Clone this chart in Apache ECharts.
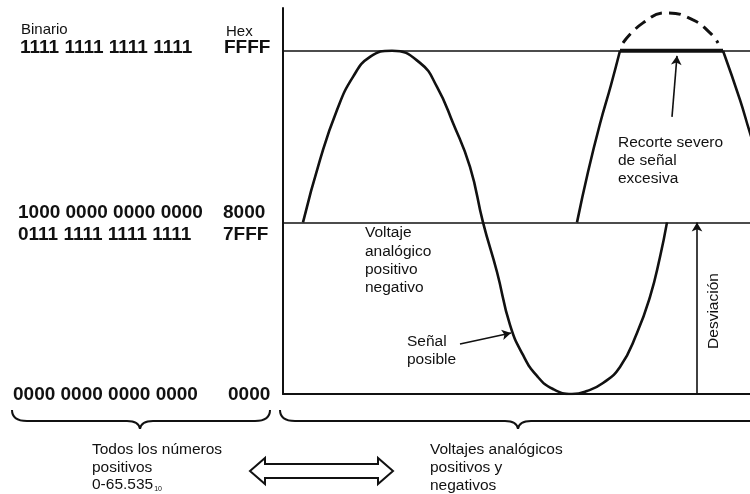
<!DOCTYPE html>
<html>
<head>
<meta charset="utf-8">
<script src="https://cdn.jsdelivr.net/npm/echarts@6/dist/echarts.min.js"></script>
<style>
  html, body { margin: 0; padding: 0; background: #fff; }
  #chart { width: 750px; height: 494px; }
</style>
</head>
<body>
<div id="chart"></div>
<script>
// x = phase of the signal (degrees), y = 16 bit code (0 .. FFFF)
var codeMax = 65535;   // FFFF
var codeMid = 32768;   // 8000

// señal posible (first positive lobe + the negative lobe)
var senalPhase = [0, 17, 34, 50, 67, 89, 117, 134, 150, 167, 180, 194, 207, 220, 234, 250, 269, 284, 300, 317, 334, 347, 357, 364];
var senalValue = [32768, 44700, 54240, 60550, 64370, 65535, 63220, 58640, 51760, 43360, 32768, 23300, 13180, 7450, 3440, 955, 0, 570, 2100, 5160, 11650, 18530, 26170, 32768];

// señal excesiva, rising and falling flanks up to the clip level
var subidaPhase = [274, 285, 297, 308, 317];
var subidaValue = [32768, 42400, 51600, 59000, 65535];
var bajadaPhase = [420, 437, 447, 457];
var bajadaValue = [65535, 56150, 49850, 44120];

// clipped part (flat at FFFF) and the lost peak (dashed)
var recortePhase = [317, 420];
var recorteValue = [65535, 65535];
var picoPhase = [320, 340, 364, 390, 407, 415];
var picoValue = [67040, 70860, 72770, 71430, 68950, 67040];

// arrows: [fromPhase, fromValue, toPhase, toValue]
var flechaRecorte = [369, 52900, 374, 64560];
var flechaSenal = [157, 9550, 208, 11650];
var flechaDesviacion = [394, 0, 394, 32768];

// tick labels at the left
var binLabels = ['1111 1111 1111 1111', '1000 0000 0000 0000', '0111 1111 1111 1111', '0000 0000 0000 0000'];
var hexLabels = ['FFFF', '8000', '7FFF', '0000'];

function zip(xs, ys) {
  return xs.map(function (x, i) { return [x, ys[i]]; });
}

var ink = '#111';
var font = 'Liberation Sans, Arial, sans-serif';

var chart = echarts.init(document.getElementById('chart'));

// label rows / columns (layout)
var rowY = [48, 213, 235, 395];
var binX = [20, 18, 18, 13];
var hexX = [224, 223, 223, 228];

var graphics = [
  { type: 'text', x: 21, y: 30, style: { text: 'Binario', font: '15px ' + font, fill: ink, verticalAlign: 'middle' } },
  { type: 'text', x: 226, y: 32, style: { text: 'Hex', font: '15px ' + font, fill: ink, verticalAlign: 'middle' } }
];
binLabels.forEach(function (t, i) {
  graphics.push({ type: 'text', x: binX[i], y: rowY[i], style: { text: t, font: 'bold 19px ' + font, fill: ink, verticalAlign: 'middle' } });
  graphics.push({ type: 'text', x: hexX[i], y: rowY[i], style: { text: hexLabels[i], font: 'bold 19px ' + font, fill: ink, verticalAlign: 'middle' } });
});

// annotations (y = centre of first line)
var note = '15.5px ' + font;
function noteText(x, y, text, lh, extra) {
  var st = { text: text, font: note, lineHeight: lh, fill: ink, verticalAlign: 'top' };
  if (extra) { for (var k in extra) st[k] = extra[k]; }
  return { type: 'text', x: x, y: y - lh / 2, style: st };
}
graphics.push(
  noteText(618, 143, 'Recorte severo\nde señal\nexcesiva', 18),
  noteText(365, 233, 'Voltaje\nanalógico\npositivo\nnegativo', 18.3),
  noteText(407, 342, 'Señal\nposible', 17.5),
  { type: 'text', x: 714, y: 311, rotation: Math.PI / 2, style: { text: 'Desviación', font: note, fill: ink, align: 'center', verticalAlign: 'middle' } },
  noteText(92, 450, 'Todos los números\npositivos\n0-65.535{s|10}', 17.5,
      { rich: { s: { fontSize: 7, fontFamily: font, fill: ink, padding: [9, 0, 0, 1] } } }),
  noteText(430, 450, 'Voltajes analógicos\npositivos y\nnegativos', 18)
);

// braces under the axis
var brace = { stroke: ink, lineWidth: 2, fill: null };
graphics.push(
  { type: 'bezierCurve', shape: { x1: 12, y1: 410, cpx1: 12, cpy1: 421, x2: 27, y2: 421 }, style: brace },
  { type: 'line', shape: { x1: 27, y1: 421, x2: 127, y2: 421 }, style: brace },
  { type: 'bezierCurve', shape: { x1: 127, y1: 421, cpx1: 139, cpy1: 421, x2: 140, y2: 429 }, style: brace },
  { type: 'bezierCurve', shape: { x1: 140, y1: 429, cpx1: 141, cpy1: 421, x2: 153, y2: 421 }, style: brace },
  { type: 'line', shape: { x1: 153, y1: 421, x2: 255, y2: 421 }, style: brace },
  { type: 'bezierCurve', shape: { x1: 255, y1: 421, cpx1: 270, cpy1: 421, x2: 270, y2: 410 }, style: brace },

  { type: 'bezierCurve', shape: { x1: 280, y1: 410, cpx1: 280, cpy1: 421, x2: 295, y2: 421 }, style: brace },
  { type: 'line', shape: { x1: 295, y1: 421, x2: 505, y2: 421 }, style: brace },
  { type: 'bezierCurve', shape: { x1: 505, y1: 421, cpx1: 517, cpy1: 421, x2: 518, y2: 429 }, style: brace },
  { type: 'bezierCurve', shape: { x1: 518, y1: 429, cpx1: 519, cpy1: 421, x2: 531, y2: 421 }, style: brace },
  { type: 'line', shape: { x1: 531, y1: 421, x2: 750, y2: 421 }, style: brace },

  // hollow double arrow
  { type: 'polygon', shape: { points: [[250, 471], [265, 458], [265, 464], [378, 464], [378, 458], [393, 471], [378, 484], [378, 478], [265, 478], [265, 484]] },
    style: { fill: '#fff', stroke: ink, lineWidth: 2 } }
);

function arrow(a) {
  return [{ coord: [a[0], a[1]] }, { coord: [a[2], a[3]] }];
}

var curve = { color: ink, width: 2.6 };

var option = {
  backgroundColor: '#fff',
  animation: false,
  grid: { left: 283, right: 0, top: 8, bottom: 100 },
  xAxis: {
    type: 'value', min: -20, max: 447,
    axisLine: { show: true, onZero: true, lineStyle: { color: ink, width: 2 } },
    axisTick: { show: false }, axisLabel: { show: false }, splitLine: { show: false }
  },
  yAxis: {
    type: 'value', min: 0, max: 73700,
    axisLine: { show: true, onZero: false, lineStyle: { color: ink, width: 2 } },
    axisTick: { show: false }, axisLabel: { show: false }, splitLine: { show: false }
  },
  series: [
    {
      name: 'Señal posible', type: 'line', smooth: true, symbol: 'none',
      lineStyle: curve, data: zip(senalPhase, senalValue),
      markLine: {
        silent: true, symbol: ['none', 'none'], label: { show: false },
        lineStyle: { color: ink, width: 1.6, type: 'solid' },
        data: [{ yAxis: codeMax }, { yAxis: codeMid }]
      }
    },
    { name: 'Subida', type: 'line', smooth: true, symbol: 'none', lineStyle: curve, data: zip(subidaPhase, subidaValue) },
    { name: 'Recorte', type: 'line', symbol: 'none', lineStyle: { color: ink, width: 4 }, data: zip(recortePhase, recorteValue) },
    { name: 'Bajada', type: 'line', smooth: true, symbol: 'none', lineStyle: curve, data: zip(bajadaPhase, bajadaValue) },
    {
      name: 'Pico perdido', type: 'line', smooth: true, symbol: 'none',
      lineStyle: { color: ink, width: 3, type: [12, 7] }, data: zip(picoPhase, picoValue),
      markLine: {
        silent: true, symbol: ['none', 'arrow'], symbolSize: [8, 9], label: { show: false },
        lineStyle: { color: ink, width: 1.6, type: 'solid' },
        data: [arrow(flechaRecorte), arrow(flechaSenal), arrow(flechaDesviacion)]
      }
    }
  ],
  graphic: graphics
};

chart.setOption(option);
</script>
</body>
</html>
